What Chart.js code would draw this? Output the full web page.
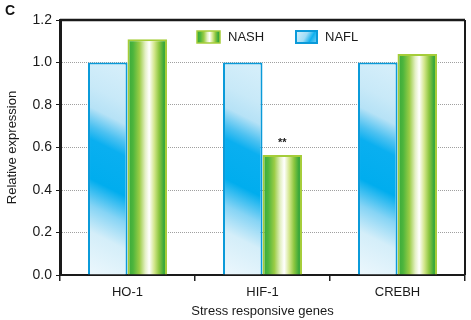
<!DOCTYPE html>
<html>
<head>
<meta charset="utf-8">
<script src="https://cdn.jsdelivr.net/npm/chart.js@4/dist/chart.umd.min.js"></script>
<style>
  html, body { margin: 0; padding: 0; background: #fff; }
  #wrap { width: 471px; height: 320px; position: relative; }
</style>
</head>
<body>
<div id="wrap"><canvas id="c" width="471" height="320"></canvas></div>
<script>
const categories = ['HO-1', 'HIF-1', 'CREBH'];
const naflValues = [1.0, 1.0, 1.0];
const nashValues = [1.11, 0.565, 1.04];
const seriesLabels = ['NAFL', 'NASH'];
const yTickValues = [0, 0.2, 0.4, 0.6, 0.8, 1.0, 1.2];
const significance = ['', '**', ''];
const FONT = '"Liberation Sans", Arial, sans-serif';

function barGeom(chart, dsIndex, i) {
  const xs = chart.scales.x, ys = chart.scales.y;
  const c = xs.getPixelForValue(i);
  const step = xs.getPixelForValue(1) - xs.getPixelForValue(0);
  const w = step * 0.585 / 2;
  const val = chart.data.datasets[dsIndex].data[i];
  const left = dsIndex === 0 ? c - w : c;
  return { left, right: left + w, top: ys.getPixelForValue(val), bottom: ys.getPixelForValue(0) };
}

function blueGradient(g, left, right, top, bottom) {
  const cx = (left + right) / 2, H = bottom - top;
  const gr = g.createLinearGradient(cx, top, cx - 0.5 * H, top + H);
  gr.addColorStop(0, '#d4eefa');
  gr.addColorStop(0.12, '#c8e9f8');
  gr.addColorStop(0.2, '#b6e2f6');
  gr.addColorStop(0.27, '#4cc1f1');
  gr.addColorStop(0.32, '#0aaff0');
  gr.addColorStop(0.47, '#00adee');
  gr.addColorStop(0.57, '#86d4f5');
  gr.addColorStop(0.67, '#d4eef9');
  gr.addColorStop(0.85, '#eef8fd');
  return gr;
}
function greenGradient(g, left, right) {
  const gr = g.createLinearGradient(left, 0, right, 0);
  gr.addColorStop(0, '#35a83c');
  gr.addColorStop(0.14, '#4db53c');
  gr.addColorStop(0.3, '#9acc45');
  gr.addColorStop(0.45, '#e4f0c4');
  gr.addColorStop(0.55, '#ffffff');
  gr.addColorStop(0.68, '#d2e68a');
  gr.addColorStop(0.8, '#8cc63f');
  gr.addColorStop(0.92, '#3aa83a');
  gr.addColorStop(1, '#2f9f3a');
  return gr;
}

function fillFor(dsIndex) {
  return function (ctx) {
    const chart = ctx.chart;
    if (!chart.chartArea || ctx.type !== 'data') return dsIndex === 0 ? '#6fcdf3' : '#9acc45';
    const b = barGeom(chart, dsIndex, ctx.dataIndex);
    return dsIndex === 0
      ? blueGradient(chart.ctx, b.left, b.right, b.top, b.bottom)
      : greenGradient(chart.ctx, b.left, b.right);
  };
}

const extras = {
  id: 'extras',
  afterDatasetsDraw(chart) {
    const g = chart.ctx, a = chart.chartArea;
    g.save();
    // top & right frame
    g.strokeStyle = '#1a1a1a';
    g.lineWidth = 2.5;
    g.beginPath();
    g.moveTo(a.left, a.top);
    g.lineTo(a.right, a.top);
    g.stroke();
    g.lineWidth = 2;
    g.beginPath();
    g.moveTo(a.right, a.top);
    g.lineTo(a.right, a.bottom);
    g.stroke();

    // significance marks
    g.fillStyle = '#1a1a1a';
    g.font = 'bold 11px ' + FONT;
    g.textAlign = 'center';
    g.textBaseline = 'middle';
    significance.forEach((s, i) => {
      if (!s) return;
      const b = barGeom(chart, 1, i);
      g.fillText(s, (b.left + b.right) / 2, b.top - 12);
    });

    // legend (NASH first, then NAFL)
    const items = [
      { label: chart.data.datasets[1].label, x: a.left + 137, type: 'green', w: 23 },
      { label: chart.data.datasets[0].label, x: a.left + 236, type: 'blue', w: 21 }
    ];
    const ly = a.top + 11, lh = 12;
    g.font = '13px ' + FONT;
    g.textAlign = 'left';
    items.forEach(it => {
      if (it.type === 'green') {
        g.fillStyle = greenGradient(g, it.x, it.x + it.w);
        g.fillRect(it.x, ly, it.w, lh);
        g.strokeStyle = '#a5cd39';
        g.lineWidth = 1.5;
        g.strokeRect(it.x, ly, it.w, lh);
      } else {
        const gr = g.createLinearGradient(it.x, ly, it.x + it.w, ly + lh);
        gr.addColorStop(0, '#d8f0fb');
        gr.addColorStop(0.45, '#9fdcf6');
        gr.addColorStop(0.7, '#10b0ef');
        gr.addColorStop(1, '#7fd0f3');
        g.fillStyle = gr;
        g.fillRect(it.x, ly, it.w, lh);
        g.strokeStyle = '#0a9ad9';
        g.lineWidth = 2;
        g.strokeRect(it.x, ly, it.w, lh);
      }
      g.fillStyle = '#1a1a1a';
      g.textBaseline = 'middle';
      g.fillText(it.label, it.x + it.w + 8, ly + lh / 2 + 0.5);
    });

    // panel letter
    g.font = 'bold 14px ' + FONT;
    g.textAlign = 'left';
    g.textBaseline = 'top';
    g.fillStyle = '#111';
    g.fillText('C', 5, 4);
    g.restore();
  }
};

new Chart(document.getElementById('c'), {
  type: 'bar',
  data: {
    labels: categories,
    datasets: [
      {
        label: seriesLabels[0],
        data: naflValues,
        backgroundColor: fillFor(0),
        borderColor: '#0a9ad9',
        borderWidth: 2,
        categoryPercentage: 0.585,
        barPercentage: 1.0
      },
      {
        label: seriesLabels[1],
        data: nashValues,
        backgroundColor: fillFor(1),
        borderColor: '#a5cd39',
        borderWidth: 2,
        categoryPercentage: 0.585,
        barPercentage: 1.0
      }
    ]
  },
  options: {
    responsive: false,
    animation: false,
    layout: { padding: { left: 0, top: 20, right: 6, bottom: 0 } },
    plugins: { legend: { display: false }, tooltip: { enabled: false } },
    scales: {
      x: {
        grid: {
          offset: true,
          drawOnChartArea: false,
          drawTicks: true,
          tickLength: 6,
          color: '#222',
          lineWidth: 1.5
        },
        border: { display: true, color: '#1a1a1a', width: 2 },
        ticks: { color: '#1a1a1a', font: { family: FONT, size: 13 }, padding: 4 },
        title: {
          display: true,
          text: 'Stress responsive genes',
          color: '#1a1a1a',
          font: { family: FONT, size: 13 },
          padding: { top: 0, bottom: 1 }
        },
        afterFit(scale) { scale.height = 45; }
      },
      y: {
        min: 0,
        max: 1.2,
        afterBuildTicks(scale) { scale.ticks = yTickValues.map(v => ({ value: v })); },
        grid: {
          drawTicks: true,
          tickLength: 4,
          tickColor: '#1a1a1a',
          tickWidth: 1,
          color: ctx => (ctx.tick && (ctx.tick.value === 0 || ctx.tick.value >= 1.19)) ? 'rgba(0,0,0,0)' : '#a0a0a0',
          lineWidth: 1
        },
        border: { display: true, color: '#1a1a1a', width: 3, dash: [1, 1] },
        ticks: {
          color: '#1a1a1a',
          font: { family: FONT, size: 14 },
          padding: 4,
          callback: v => Number(v).toFixed(1)
        },
        title: {
          display: true,
          text: 'Relative expression',
          color: '#1a1a1a',
          font: { family: FONT, size: 13 },
          padding: { top: 5, bottom: 0 }
        },
        afterFit(scale) { scale.width = 60; }
      }
    }
  },
  plugins: [extras]
});
</script>
</body>
</html>
